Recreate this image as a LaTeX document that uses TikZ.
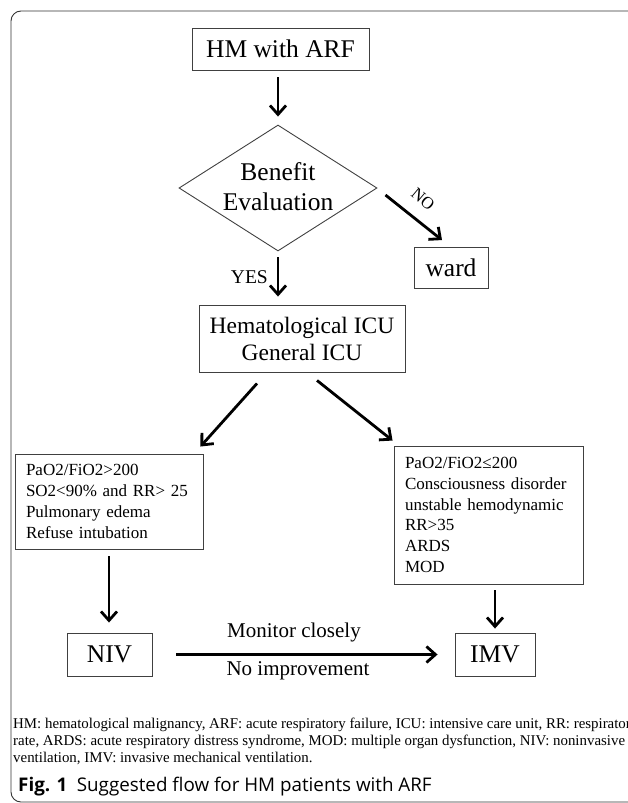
\documentclass[tikz,border=0pt]{standalone}
\usepackage{fontspec}
\setmainfont{Liberation Serif}
\newfontfamily\capfont{Open Sans}
\usetikzlibrary{arrows.meta,calc,shapes.geometric}
\begin{document}
\begin{tikzpicture}[x=1pt,y={(0pt,-1pt)},
  box/.style={draw=black!75,line width=0.9pt,inner sep=0pt,align=center},
  arr/.style={line width=2.8pt,-{Straight Barb[length=9pt,width=16pt,line width=2.8pt]}},
  big/.style={font=\fontsize{25.5}{30}\selectfont},
  mid/.style={font=\fontsize{21}{24}\selectfont},
  small/.style={font=\fontsize{17}{20.8}\selectfont}
]
\useasboundingbox (0,0) rectangle (627,803);
\draw[black!80,line width=0.9pt,rounded corners=10pt] (11,11) rectangle (680,802);

\node[box,big,minimum width=177pt,minimum height=42pt] (hm) at (280.5,49) {HM with ARF};
\node[draw=black!75,line width=0.9pt,diamond,minimum width=198pt,minimum height=126pt,inner sep=0pt] (dia) at (278,188) {};
\node[big,align=center,inner sep=0pt] (diat) at (278,187) {Benefit\\Evaluation};
\node[box,big,minimum width=74pt,minimum height=41pt] (ward) at (451,268) {ward};
\node[box,font=\fontsize{23.5}{27}\selectfont,minimum width=206pt,minimum height=67pt] (hem) at (302,338.5) {Hematological ICU\\General ICU};
\node[box,small,align=left,text width=166pt,inner xsep=11pt,minimum height=95pt] (lb) at (109,501.5) {PaO2/FiO2>200\\SO2<90\% and RR> 25\\Pulmonary edema\\Refuse intubation};
\node[box,small,align=left,text width=167pt,inner xsep=11pt,minimum height=138pt] (rb) at (488.5,515) {PaO2/FiO2≤200\\Consciousness disorder\\unstable hemodynamic\\RR>35\\ARDS\\MOD};
\node[box,big,minimum width=85pt,minimum height=43pt] (niv) at (109.5,654.5) {NIV};
\node[box,big,minimum width=80pt,minimum height=43pt] (imv) at (495,654.5) {IMV};

\draw[arr,shorten <=7pt,shorten >=8pt] (dia.north |- hm.south) -- (dia.north);
\draw[arr,shorten <=6pt,shorten >=8pt] (dia.south) -- (dia.south |- hem.north);
\node[font=\fontsize{19.5}{22}\selectfont,anchor=east,inner sep=0pt] (yes) at (268,277) {YES};
\draw[arr] ($(dia.east)+(8,7)$) -- ($(ward.north)+(-9,-7)$);
\node[font=\fontsize{17}{20}\selectfont,rotate=-40,inner sep=0pt] (no) at (423,199) {NO};
\draw[arr] ($(hem.south)+(-45,11)$) -- ($(lb.north east)+(-3,-7)$);
\draw[arr] ($(hem.south)+(15,8)$) -- ($(rb.north west)+(-1,-5)$);
\draw[arr,shorten <=7pt,shorten >=10pt] (lb.south) -- (lb.south |- niv.north);
\draw[arr,shorten <=6pt,shorten >=4pt] (rb.south -| imv.north) -- (imv.north);
\draw[arr,shorten <=24pt,shorten >=17pt] (niv.east) -- (imv.west);
\node[mid,inner sep=0pt] (mon) at (294,632) {Monitor closely};
\node[mid,inner sep=0pt] (noimp) at (298,671) {No improvement};

\node[anchor=north west,align=left,font=\fontsize{14.9}{17}\selectfont,inner sep=0pt] (foot) at (13,718) {HM: hematological malignancy, ARF: acute respiratory failure, ICU: intensive care unit, RR: respiratory\\rate, ARDS: acute respiratory distress syndrome, MOD: multiple organ dysfunction, NIV: noninvasive\\ventilation, IMV: invasive mechanical ventilation.};
\node[anchor=west,font=\capfont\fontsize{18.8}{22}\selectfont,inner sep=0pt] (cap) at (18,787) {\textbf{Fig. 1}\hspace{0.5em}Suggested flow for HM patients with ARF};
\end{tikzpicture}
\end{document}
